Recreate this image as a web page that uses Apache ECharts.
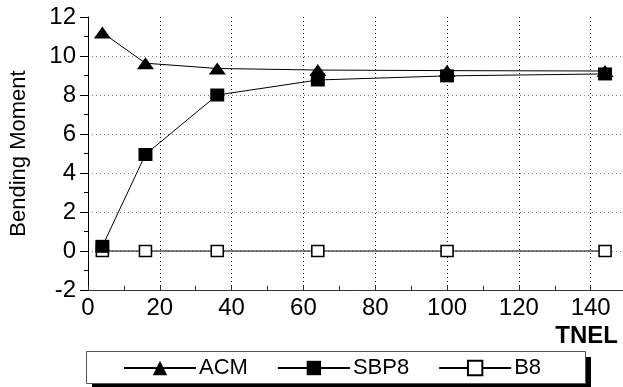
<!DOCTYPE html>
<html>
<head>
<meta charset="utf-8">
<script src="https://cdn.jsdelivr.net/npm/echarts@6/dist/echarts.min.js"></script>
<style>
html,body{margin:0;padding:0;background:#fff;}
#chart{width:623px;height:387px;}
</style>
</head>
<body>
<div id="chart"></div>
<script>
// Data
const xValues = [4, 16, 36, 64, 100, 144];
const acm  = [11.2, 9.63, 9.36, 9.28, 9.25, 9.23];
const sbp8 = [0.24, 4.95, 8.0, 8.77, 8.98, 9.08];
const b8   = [0, 0, 0, 0, 0, 0];
const seriesNames = ['ACM', 'SBP8', 'B8'];
const xTickLabels = ['0', '20', '40', '60', '80', '100', '120', '140'];
const yTickLabels = ['-2', '0', '2', '4', '6', '8', '10', '12'];

const FONT = "'Liberation Sans', Arial, sans-serif";
const pairs = (ys) => xValues.map((x, i) => [x, ys[i]]);

const chart = echarts.init(document.getElementById('chart'), null, {renderer: 'canvas'});
chart.setOption({
  animation: false,
  backgroundColor: '#fff',
  textStyle: {fontFamily: FONT, color: '#000'},
  grid: {left: 86, right: 0, top: 17, bottom: 97, containLabel: false},
  graphic: {
    elements: [
      { // legend frame shadow, right edge
        type: 'line', z: 1, silent: true,
        shape: {x1: 588.5, y1: 357, x2: 588.5, y2: 389},
        style: {stroke: '#000', lineWidth: 5}
      },
      { // legend frame shadow, bottom edge
        type: 'line', z: 1, silent: true,
        shape: {x1: 92, y1: 386, x2: 591, y2: 386},
        style: {stroke: '#000', lineWidth: 5}
      },
      { // legend frame
        type: 'rect', z: 2, silent: true,
        shape: {x: 86.5, y: 351.5, width: 499, height: 32},
        style: {fill: '#fff', stroke: '#555', lineWidth: 1}
      }
    ]
  },
  xAxis: {
    type: 'value', min: 0, max: 149, interval: 20,
    name: 'TNEL', nameLocation: 'end', nameGap: -5,
    nameTextStyle: {fontFamily: FONT, fontSize: 24, fontWeight: 'bold', color: '#000',
      align: 'right', verticalAlign: 'top', padding: [34, 0, 0, 0]},
    axisLine: {show: true, onZero: false, lineStyle: {color: '#333', width: 1}},
    axisTick: {show: true, inside: true, length: 4, lineStyle: {color: '#333'}},
    minorTick: {show: true, splitNumber: 2, length: 4, lineStyle: {color: '#333'}},
    axisLabel: {fontFamily: FONT, fontSize: 24, color: '#000', margin: 6,
      showMaxLabel: false,
      formatter: (v) => { const s = String(v); return xTickLabels.indexOf(s) >= 0 ? s : ''; }},
    splitLine: {show: true, showMaxLine: false, lineStyle: {color: '#000', width: 1, type: [1, 3]}}
  },
  yAxis: {
    type: 'value', min: -2, max: 12, interval: 2,
    name: 'Bending Moment', nameLocation: 'middle', nameGap: 58,
    nameTextStyle: {fontFamily: FONT, fontSize: 22, color: '#000'},
    axisLine: {show: true, onZero: false, lineStyle: {color: '#000', width: 1}},
    axisTick: {show: true, inside: false, length: 8, lineStyle: {color: '#000'}},
    minorTick: {show: true, splitNumber: 2, length: 4, lineStyle: {color: '#000'}},
    axisLabel: {fontFamily: FONT, fontSize: 24, color: '#000', margin: 12,
      formatter: (v) => { const s = String(v); return yTickLabels.indexOf(s) >= 0 ? s : ''; }},
    splitLine: {show: true, showMaxLine: false, showMinLine: false, lineStyle: {color: '#808080', width: 1, type: [1, 3]}}
  },
  legend: {
    data: seriesNames,
    left: 123, top: 357, z: 10,
    orient: 'horizontal',
    padding: 0,
    itemWidth: 72, itemHeight: 18, itemGap: 29,
    textStyle: {fontFamily: FONT, fontSize: 22, color: '#000', padding: [0, 0, 0, -2]},
    backgroundColor: 'transparent',
    borderWidth: 0
  },
  series: [
    {
      name: seriesNames[0], type: 'line', data: pairs(acm), z: 4,
      symbol: 'triangle', symbolSize: [17, 12],
      lineStyle: {color: '#000', width: 1},
      itemStyle: {color: '#000', borderColor: '#000', borderWidth: 0}
    },
    {
      name: seriesNames[1], type: 'line', data: pairs(sbp8), z: 3,
      symbol: 'rect', symbolSize: [14, 13],
      lineStyle: {color: '#000', width: 1},
      itemStyle: {color: '#000', borderColor: '#000', borderWidth: 0}
    },
    {
      name: seriesNames[2], type: 'line', data: pairs(b8), z: 2,
      symbol: 'rect', symbolSize: [12, 11],
      lineStyle: {color: '#000', width: 1},
      itemStyle: {color: '#fff', borderColor: '#000', borderWidth: 1.5}
    }
  ]
});
</script>
</body>
</html>
